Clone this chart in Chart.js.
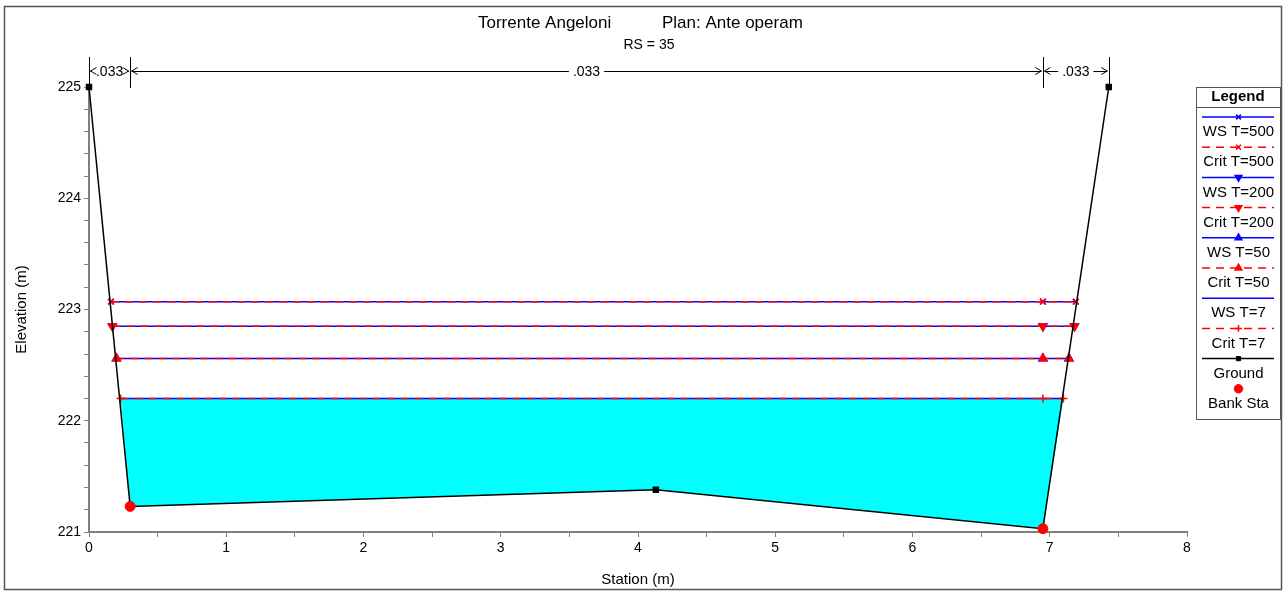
<!DOCTYPE html>
<html>
<head>
<meta charset="utf-8">
<script src="https://cdn.jsdelivr.net/npm/chart.js@4.4.1/dist/chart.umd.min.js"></script>
<style>
  html, body { margin: 0; padding: 0; background: #fff; }
  #contenedor { width: 1286px; height: 592px; position: relative; }
</style>
</head>
<body>
<div id="contenedor"><canvas id="seccion" width="1286" height="592"></canvas></div>
<script>
// === Sección transversal RS = 35 (estación m, cota m) ===
const groundX = [0, 0.30, 4.13, 6.95, 7.43];
const groundY = [225.0, 221.23, 221.38, 221.03, 225.0];
const bankX = [0.30, 6.95];
const bankY = [221.23, 221.03];

// === Perfiles de agua: cota y extremos ===
const perfiles = ['T=500', 'T=200', 'T=50', 'T=7'];
const wsElev = [223.07, 222.85, 222.56, 222.20];
const critElev = [223.07, 222.85, 222.56, 222.20];
const wsLeftX = [0.16, 0.17, 0.20, 0.23];
const wsRightX = [7.19, 7.18, 7.14, 7.10];

// === Área mojada (T=7) ===
const waterX = [0.23, 0.30, 4.13, 6.95, 7.10, 0.23];
const waterY = [222.20, 221.23, 221.38, 221.03, 222.20, 222.20];

// === Coeficientes de Manning ===
const nStations = [0, 0.30, 6.95, 7.43];
const nValues = ['.033', '.033', '.033'];

// === Etiquetas de ejes ===
const xTickLabels = [0, 1, 2, 3, 4, 5, 6, 7, 8];
const yTickLabels = [221, 222, 223, 224, 225];

const FUENTE = '"Liberation Sans", Arial, Helvetica, sans-serif';
const AZUL = '#0000FF';
const ROJO = '#FF0000';

// estilos de marcador por perfil
const marcaWS = ['crossRot', 'triangle', 'triangle', false];
const marcaCrit = ['crossRot', 'triangle', 'triangle', 'cross'];
const giro = [0, 180, 0, 0];
const radio = [4, 4.5, 4.5, 4];

const puntosPerfil = (i, cota) => [
  { x: wsLeftX[i], y: cota[i] },
  { x: bankX[1], y: cota[i] },
  { x: wsRightX[i], y: cota[i] }
];

const datasets = [];
perfiles.forEach((p, i) => {
  datasets.push({
    label: 'WS ' + p,
    data: puntosPerfil(i, wsElev),
    borderColor: AZUL,
    backgroundColor: AZUL,
    borderWidth: 1.5,
    pointStyle: marcaWS[i],
    pointRotation: giro[i],
    pointRadius: marcaWS[i] ? radio[i] : 0,
    pointBorderWidth: 1.5,
    order: 20 + i
  });
  datasets.push({
    label: 'Crit ' + p,
    data: puntosPerfil(i, critElev),
    borderColor: ROJO,
    backgroundColor: ROJO,
    borderWidth: 1.5,
    borderDash: [8, 6],
    pointStyle: marcaCrit[i],
    pointRotation: giro[i],
    pointRadius: radio[i],
    pointBorderWidth: 1.5,
    order: 10 + i
  });
});

datasets.push({
  label: 'Ground',
  data: groundX.map((x, i) => ({ x, y: groundY[i] })),
  borderColor: '#000',
  backgroundColor: '#000',
  borderWidth: 1.5,
  pointStyle: 'rect',
  pointRadius: 3.5,
  clip: false,
  order: 5
});
datasets.push({
  label: 'Bank Sta',
  data: bankX.map((x, i) => ({ x, y: bankY[i] })),
  borderColor: ROJO,
  backgroundColor: ROJO,
  showLine: false,
  pointStyle: 'circle',
  pointRadius: 5,
  clip: false,
  order: 1
});
datasets.push({
  label: 'agua',
  esLeyenda: false,
  data: waterX.map((x, i) => ({ x, y: waterY[i] })),
  borderColor: 'rgba(0,0,0,0)',
  borderWidth: 0,
  backgroundColor: '#00FFFF',
  fill: 'shape',
  pointRadius: 0,
  order: 100
});

// === Títulos, coeficientes n, leyenda y marco ===
const decoraciones = {
  id: 'decoraciones',
  afterDraw(chart) {
    const { ctx, scales: { x } } = chart;
    ctx.save();

    // marco exterior
    ctx.strokeStyle = '#555';
    ctx.lineWidth = 1.5;
    ctx.strokeRect(4.5, 6.5, 1277, 583);

    // título
    ctx.fillStyle = '#000';
    ctx.textBaseline = 'middle';
    ctx.textAlign = 'left';
    ctx.font = '17px ' + FUENTE;
    ctx.fillText('Torrente Angeloni', 478, 23);
    ctx.fillText('Plan: Ante operam', 662, 23);
    ctx.textAlign = 'center';
    ctx.font = '14px ' + FUENTE;
    ctx.fillText('RS = 35', 649, 45);

    // coeficientes de Manning
    const yn = 71;
    ctx.strokeStyle = '#000';
    ctx.lineWidth = 1;
    ctx.font = '14px ' + FUENTE;
    nStations.forEach(s => {
      const px = Math.round(x.getPixelForValue(s)) + 0.5;
      ctx.beginPath();
      ctx.moveTo(px, 57);
      ctx.lineTo(px, 88);
      ctx.stroke();
    });
    const flecha = (px, dir) => {
      ctx.beginPath();
      ctx.moveTo(px - dir * 6, yn - 3.5);
      ctx.lineTo(px, yn);
      ctx.lineTo(px - dir * 6, yn + 3.5);
      ctx.stroke();
    };
    nValues.forEach((n, i) => {
      const a = x.getPixelForValue(nStations[i]) + 1.5;
      const b = x.getPixelForValue(nStations[i + 1]) - 1.5;
      const mid = (a + b) / 2;
      const w = ctx.measureText(n).width;
      const t0 = mid - w / 2 - 4, t1 = mid + w / 2 + 4;
      ctx.beginPath();
      if (t0 > a) { ctx.moveTo(a, yn + 0.5); ctx.lineTo(t0, yn + 0.5); }
      if (t1 < b) { ctx.moveTo(t1, yn + 0.5); ctx.lineTo(b, yn + 0.5); }
      ctx.stroke();
      flecha(a, -1);
      flecha(b, 1);
      ctx.fillText(n, mid, yn + 1);
    });

    // leyenda
    const lx = 1196, ly = 87, lw = 84, lh = 332;
    ctx.strokeStyle = '#555';
    ctx.lineWidth = 1;
    ctx.strokeRect(lx + 0.5, ly + 0.5, lw, lh);
    ctx.beginPath();
    ctx.moveTo(lx, 107.5);
    ctx.lineTo(lx + lw, 107.5);
    ctx.stroke();
    ctx.font = 'bold 15px ' + FUENTE;
    ctx.fillText('Legend', lx + lw / 2, 97);
    ctx.font = '15px ' + FUENTE;
    const cx = lx + lw / 2 + 0.5;
    chart.data.datasets.filter(d => d.esLeyenda !== false).forEach((d, i) => {
      const yl = 117 + i * 30.2;
      ctx.save();
      if (d.showLine !== false) {
        ctx.strokeStyle = d.borderColor;
        ctx.lineWidth = d.borderWidth;
        ctx.setLineDash(d.borderDash || []);
        ctx.beginPath();
        ctx.moveTo(lx + 6, yl);
        ctx.lineTo(lx + lw - 6, yl);
        ctx.stroke();
        ctx.setLineDash([]);
      }
      if (d.pointStyle && d.pointRadius) {
        ctx.fillStyle = d.backgroundColor;
        ctx.strokeStyle = d.borderColor;
        ctx.lineWidth = d.pointBorderWidth || 1;
        Chart.helpers.drawPoint(ctx, {
          pointStyle: d.pointStyle,
          rotation: d.pointRotation || 0,
          radius: d.pointRadius * 0.85,
          borderWidth: d.pointBorderWidth || 1
        }, cx, yl);
      }
      ctx.restore();
      ctx.fillStyle = '#000';
      ctx.fillText(d.label, cx, yl + 15);
    });

    ctx.restore();
  }
};

new Chart(document.getElementById('seccion'), {
  type: 'line',
  data: { datasets },
  options: {
    responsive: false,
    animation: false,
    devicePixelRatio: 1,
    layout: { padding: { top: 87, right: 99, left: 0, bottom: 0 } },
    elements: { line: { tension: 0, fill: false } },
    plugins: {
      legend: { display: false },
      tooltip: { enabled: false },
      title: { display: false }
    },
    scales: {
      x: {
        type: 'linear',
        min: 0,
        max: 8,
        afterFit: s => { s.height = 60; },
        border: { color: '#808080', width: 2 },
        grid: { drawOnChartArea: false, tickLength: 5, tickColor: '#808080' },
        ticks: {
          stepSize: 0.5,
          autoSkip: false,
          maxRotation: 0,
          padding: 3,
          color: '#000',
          font: { family: FUENTE, size: 14 },
          callback: v => xTickLabels.some(t => Math.abs(t - v) < 1e-6) ? String(Math.round(v)) : ''
        },
        title: {
          display: true,
          text: 'Station (m)',
          color: '#000',
          font: { family: FUENTE, size: 15 },
          padding: { top: 0, bottom: 3 }
        }
      },
      y: {
        type: 'linear',
        min: 221,
        max: 225,
        afterFit: s => { s.width = 89; },
        border: { color: '#808080', width: 2 },
        grid: { drawOnChartArea: false, tickLength: 5, tickColor: '#808080' },
        ticks: {
          stepSize: 0.2,
          autoSkip: false,
          padding: 3,
          color: '#000',
          font: { family: FUENTE, size: 14 },
          callback: v => yTickLabels.some(t => Math.abs(t - v) < 1e-6) ? String(Math.round(v)) : ''
        },
        title: {
          display: true,
          text: 'Elevation (m)',
          color: '#000',
          font: { family: FUENTE, size: 15 },
          padding: { top: 13, bottom: 0 }
        }
      }
    }
  },
  plugins: [decoraciones]
});
</script>
</body>
</html>
